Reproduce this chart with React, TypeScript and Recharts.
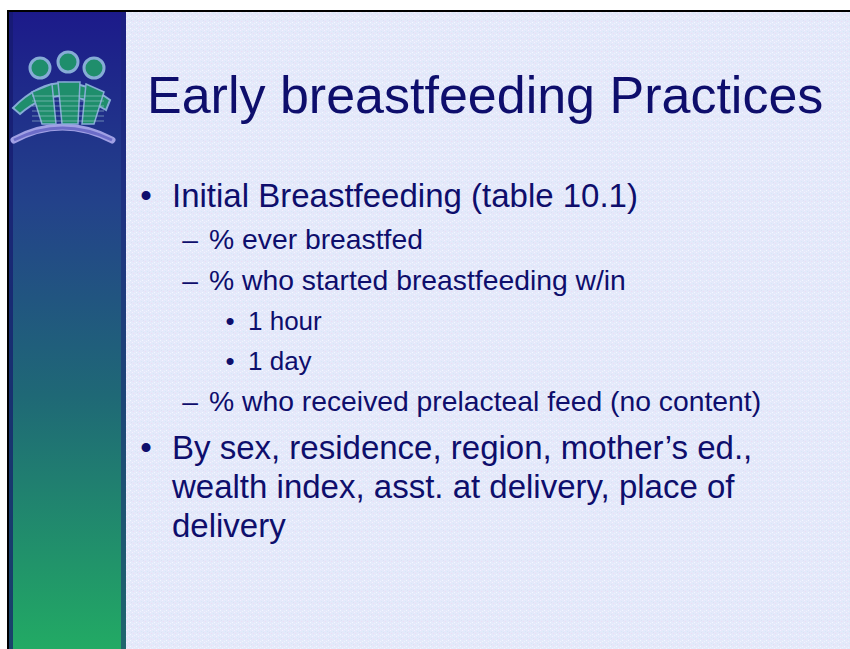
import React from 'react';
import { ComposedChart, Customized, XAxis, YAxis } from 'recharts';

const titleText = 'Early breastfeeding Practices';
const bulletLevels = [1, 2, 2, 3, 3, 2, 1, 0, 0];
const bulletTexts = [
  'Initial Breastfeeding (table 10.1)',
  '% ever breastfed',
  '% who started breastfeeding w/in',
  '1 hour',
  '1 day',
  '% who received prelacteal feed (no content)',
  'By sex, residence, region, mother\u2019s ed.,',
  'wealth index, asst. at delivery, place of',
  'delivery',
];
const bulletBaselines = [207, 249, 290, 330, 370, 411, 459, 498, 537];

const W = 850;
const H = 649;
const TEXT = '#0e0e6c';
const FONT = '"Liberation Sans", Arial, Helvetica, sans-serif';

const levelStyle: Record<number, { size: number; textX: number; markX: number; mark: string }> = {
  1: { size: 33, textX: 172, markX: 146, mark: '\u2022' },
  0: { size: 33, textX: 172, markX: 146, mark: '' },
  2: { size: 28.3, textX: 209, markX: 190, mark: '\u2013' },
  3: { size: 26, textX: 248, markX: 230, mark: '\u2022' },
};

const chartData = bulletTexts.map((t, i) => ({ i, t }));

function Slide() {
  const green = '#1f8e6c';
  const glow = '#86acd6';
  return (
    <g>
      <defs>
        <linearGradient id="barGrad" x1="0" y1="0" x2="0" y2="1">
          <stop offset="0%" stopColor="#1c1a8a" />
          <stop offset="30%" stopColor="#23428a" />
          <stop offset="60%" stopColor="#1f6876" />
          <stop offset="100%" stopColor="#22aa64" />
        </linearGradient>
        <pattern id="tex" width="6" height="6" patternUnits="userSpaceOnUse">
          <rect width="6" height="6" fill="#e4e9fa" />
          <rect x="0" y="0" width="1" height="1" fill="#f6f0ff" />
          <rect x="3" y="1" width="1" height="1" fill="#d6e8f8" />
          <rect x="1" y="3" width="1" height="1" fill="#eedcf4" />
          <rect x="4" y="4" width="1" height="1" fill="#f4f8ff" />
          <rect x="5" y="2" width="1" height="1" fill="#dce0f4" />
          <rect x="2" y="5" width="1" height="1" fill="#eef4fc" />
        </pattern>
      </defs>
      <rect x={0} y={0} width={W} height={H} fill="#ffffff" />
      <rect x={9} y={12} width={W - 9} height={H - 12} fill="url(#tex)" />
      {/* left bar */}
      <rect x={9} y={12} width={117} height={H - 12} fill="url(#barGrad)" />
      <rect x={9} y={12} width={4} height={H - 12} fill="#161a6e" opacity={0.7} />
      <rect x={121} y={12} width={5} height={H - 12} fill="#1a2278" opacity={0.5} />
      {/* borders */}
      <rect x={7} y={10} width={W - 7} height={2} fill="#000000" />
      <rect x={7} y={10} width={2} height={H - 10} fill="#000000" />
      {/* logo */}
      <g>
        <path d="M14,140 Q62,114 112,140" stroke="#a0a0e4" strokeWidth={7} fill="none" strokeLinecap="round" />
        <path d="M14,140 Q62,116 112,140" stroke="#6c6cc8" strokeWidth={3} fill="none" />
        <path d="M13,108 Q58,62 110,100 L106,110 Q58,80 20,114 Z" fill={green} stroke={glow} strokeWidth={2} />
        <path d="M32,92 L52,84 L56,124 L42,124 Z" fill={green} stroke={glow} strokeWidth={1.5} />
        <path d="M58,82 L80,82 L78,124 L62,124 Z" fill={green} stroke={glow} strokeWidth={1.5} />
        <path d="M86,84 L104,92 L94,124 L82,124 Z" fill={green} stroke={glow} strokeWidth={1.5} />
        {[96, 101, 106, 111, 116, 121].map((y) => (
          <line key={y} x1={32} y1={y} x2={104} y2={y} stroke="#a8d0d8" strokeWidth={1} opacity={0.55} />
        ))}
        <circle cx={40} cy={68} r={10} fill={green} stroke={glow} strokeWidth={3} />
        <circle cx={68} cy={62} r={10} fill={green} stroke={glow} strokeWidth={3} />
        <circle cx={94} cy={68} r={10} fill={green} stroke={glow} strokeWidth={3} />
      </g>
      {/* title */}
      <text x={147} y={113} fontFamily={FONT} fontSize={52} fill={TEXT}>
        {titleText}
      </text>
      {/* bullets */}
      {bulletTexts.map((t, i) => {
        const st = levelStyle[bulletLevels[i]];
        const y = bulletBaselines[i];
        return (
          <g key={i}>
            {st.mark && (
              <text x={st.markX} y={y} fontFamily={FONT} fontSize={st.size} fill={TEXT} textAnchor="middle">
                {st.mark}
              </text>
            )}
            <text x={st.textX} y={y} fontFamily={FONT} fontSize={st.size} fill={TEXT}>
              {t}
            </text>
          </g>
        );
      })}
    </g>
  );
}

export default function App() {
  return (
    <div style={{ position: 'absolute', left: 0, top: 0, width: W, height: H, background: '#fff' }}>
      <ComposedChart width={W} height={H} data={chartData} margin={{ top: 0, right: 0, bottom: 0, left: 0 }}>
        <XAxis dataKey="i" hide />
        <YAxis hide />
        <Customized component={Slide} />
      </ComposedChart>
    </div>
  );
}
